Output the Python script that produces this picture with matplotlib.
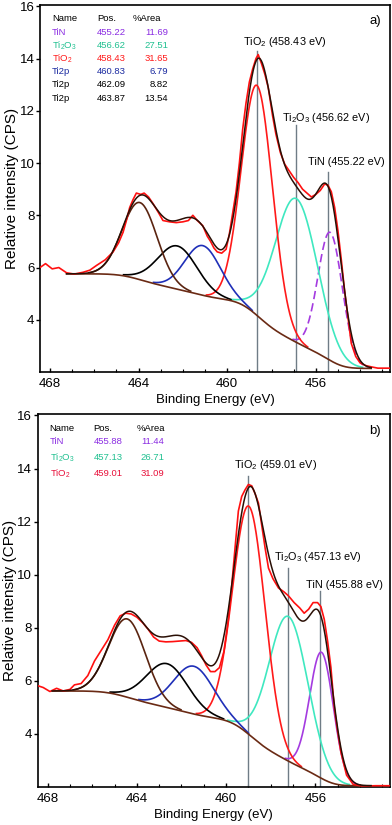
import numpy as np
import matplotlib
matplotlib.use("Agg")
import matplotlib.pyplot as plt

plt.rcParams["font.family"] = ["Liberation Sans", "DejaVu Sans"]
plt.rcParams["mathtext.default"] = "regular"

raw_a_E = [468.45, 468.2, 467.9, 467.6, 467.25, 466.9, 466.5, 466.2, 465.9, 465.5,
           465.15, 464.9, 464.7, 464.55, 464.4, 464.25, 464.1, 463.9, 463.75, 463.55,
           463.35, 463.1, 462.9, 462.6, 462.3, 462.0, 461.75, 461.55, 461.35, 461.1,
           460.9, 460.75, 460.6, 460.45, 460.25, 460.05, 459.9, 459.75, 459.6, 459.45,
           459.3, 459.15, 459.0, 458.85, 458.7, 458.6, 458.45, 458.3, 458.15, 457.95,
           457.8, 457.6, 457.4, 457.2, 457.0, 456.8, 456.6, 456.4, 456.2, 456.0,
           455.8, 455.6, 455.45, 455.3, 455.15, 455.0, 454.85, 454.7, 454.55, 454.4,
           454.2, 454.0, 453.75, 453.5, 453.2, 452.9, 452.65]
raw_a_I = [6.0, 6.15, 5.95, 6.0, 5.8, 5.75, 5.82, 5.9, 6.08, 6.3,
           6.6, 6.95, 7.35, 7.8, 8.3, 8.6, 8.85, 8.8, 8.85, 8.7,
           8.45, 8.1, 7.8, 7.75, 7.72, 7.75, 7.8, 8.0, 7.8, 7.6,
           7.2, 7.0, 6.75, 6.6, 6.55, 6.7, 7.3, 8.1, 8.9, 10.0,
           11.3, 12.3, 13.1, 13.6, 14.0, 14.15, 13.8, 13.4, 12.9, 11.8,
           11.1, 10.4, 9.95, 9.7, 9.45, 9.25, 9.0, 8.85, 8.7, 8.8,
           8.95, 9.2, 9.15, 8.9, 8.3, 7.4, 6.3, 5.1, 4.1, 3.1,
           2.6, 2.35, 2.25, 2.2, 2.15, 2.15, 2.15]

# fitted components: centre (as drawn), height above background, FWHM
comp_a_center = [455.35, 456.88, 458.65, 461.1, 462.25, 463.94]
comp_a_height = [4.9, 5.5, 8.8, 1.9, 1.65, 2.95]
comp_a_fwhm = [1.3, 2.25, 1.65, 1.9, 2.1, 1.85]
fit_a_range = (467.25, 453.5)
bg_a_levels = (5.76, 2.14)   # Shirley end points (high BE, low BE)

table_a_name = ["TiN", "Ti$_2$O$_3$", "TiO$_2$", "Ti2p", "Ti2p", "Ti2p"]
table_a_pos = ["455.22", "456.62", "458.43", "460.83", "462.09", "463.87"]
table_a_area = ["11.69", "27.51", "31.65", "6.79", "8.82", "13.54"]

mark_a_E = [458.65, 456.90, 455.46]
mark_a_top = [14.27, 11.46, 9.65]
mark_a_text = ["TiO$_2$ (458.43 eV)", "Ti$_2$O$_3$ (456.62 eV)", "TiN (455.22 eV)"]

# ---------------- panel b ----------------
raw_b_E = [468.45, 468.2, 467.9, 467.6, 467.3, 467.0, 466.8, 466.5, 466.2, 465.9,
           465.6, 465.3, 465.0, 464.75, 464.5, 464.25, 464.0, 463.75, 463.5, 463.25,
           463.0, 462.7, 462.4, 462.1, 461.8, 461.55, 461.3, 461.1, 460.9, 460.7,
           460.5, 460.3, 460.1, 459.9, 459.75, 459.6, 459.45, 459.3, 459.15, 459.0,
           458.85, 458.7, 458.55, 458.4, 458.25, 458.1, 457.9, 457.65, 457.4, 457.2,
           456.95, 456.7, 456.5, 456.3, 456.1, 455.9, 455.75, 455.6, 455.45, 455.3,
           455.15, 455.0, 454.85, 454.6, 454.3, 454.0, 453.7, 453.3, 452.9, 452.5]
raw_b_I = [5.82, 5.75, 5.6, 5.72, 5.62, 5.68, 5.85, 5.9, 6.2, 6.75,
           7.15, 7.55, 8.1, 8.45, 8.55, 8.52, 8.4, 8.2, 7.95, 7.65,
           7.5, 7.47, 7.48, 7.5, 7.52, 7.45, 7.25, 6.95, 6.6, 6.35,
           6.35, 6.5, 7.1, 8.3, 9.57, 11.0, 12.4, 12.95, 13.2, 13.4,
           13.35, 13.05, 12.7, 11.85, 11.0, 10.25, 9.85, 9.5, 9.35, 9.2,
           8.95, 8.75, 8.55, 8.7, 8.95, 8.95, 8.8, 8.32, 7.5, 6.5,
           5.0, 4.1, 3.3, 2.45, 2.1, 2.05, 2.04, 2.05, 2.05, 2.05]

comp_b_center = [455.72, 457.2, 458.97, 461.45, 462.65, 464.43]
comp_b_height = [4.75, 5.45, 8.6, 1.8, 1.65, 2.95]
comp_b_fwhm = [1.25, 2.05, 1.7, 2.1, 2.2, 1.95]
fit_b_range = (467.8, 453.5)
bg_b_levels = (5.62, 2.05)

table_b_name = ["TiN", "Ti$_2$O$_3$", "TiO$_2$"]
table_b_pos = ["455.88", "457.13", "459.01"]
table_b_area = ["11.44", "26.71", "31.09"]

mark_b_E = [459.03, 457.22, 455.77]
mark_b_top = [13.72, 10.27, 9.37]
mark_b_text = ["TiO$_2$ (459.01 eV)", "Ti$_2$O$_3$ (457.13 eV)", "TiN (455.88 eV)"]

# colours
RAW = "#ff1010"
ENV = "#2a0f05"
BG = "#6a2a14"
comp_colors = ["#a43be0", "#3fe8c0", "#ff1a1a", "#1f2fb8", "#000000", "#5a2410"]
table_colors_a = ["#8a2be2", "#20c090", "#ff1a1a", "#1a2aa0", "#000000", "#000000"]
table_colors_b = ["#8a2be2", "#20c090", "#e8103a"]


def gauss(E, c, h, w):
    s = w / 2.3548
    return h * np.exp(-(E - c) ** 2 / (2 * s ** 2))


def shirley(E, peaks_sum, hi, lo):
    # E descending; integrate from low-BE end
    Eu = E[::-1]
    Pu = peaks_sum[::-1]
    cum = np.concatenate([[0], np.cumsum((Pu[1:] + Pu[:-1]) / 2 * np.diff(Eu))])
    bg = lo + (hi - lo) * cum / cum[-1]
    return bg[::-1]


def draw_panel(ax, rawE, rawI, centers, heights, fwhms, frange, levels,
               dashed_tin, names, pos, area, tcolors, cols,
               markE, markTop, markText, label_xy, tag):
    E = np.linspace(frange[0], frange[1], 600)
    comps = [gauss(E, c, h, w) for c, h, w in zip(centers, heights, fwhms)]
    total = np.sum(comps, axis=0)
    bg = shirley(E, total, *levels)

    for k, (g, col) in enumerate(zip(comps, comp_colors)):
        y = np.ma.masked_where(g < 0.04, bg + g)
        ls = (0, (5, 2.5)) if (k == 0 and dashed_tin) else "-"
        ax.plot(E, y, color=col, lw=1.2, ls=ls, zorder=3)

    ax.plot(E, bg, color=BG, lw=1.2, zorder=4)
    ax.plot(rawE, rawI, color=RAW, lw=1.2, zorder=5)
    ax.plot(E, bg + total, color=ENV, lw=1.1, zorder=6)

    for xe, top in zip(markE, markTop):
        ax.plot([xe, xe], [0, top], color="#6f7c86", lw=1.0, zorder=2)
    for txt, (lx, ly) in zip(markText, label_xy):
        ax.text(lx, ly, txt, fontsize=7.8, ha="left", va="center", zorder=7)

    # little results table
    ax.text(0.034, 0.962, "Name", transform=ax.transAxes, fontsize=6.8, va="center")
    ax.text(cols[0], 0.962, "Pos.", transform=ax.transAxes, fontsize=6.8, va="center")
    ax.text(cols[1], 0.962, "%Area", transform=ax.transAxes, fontsize=6.8, va="center")
    row_y = 0.926
    for n, p, a, c in zip(names, pos, area, tcolors):
        ax.text(0.034, row_y, n, transform=ax.transAxes, fontsize=6.8, va="center", color=c)
        ax.text(cols[0], row_y, p, transform=ax.transAxes, fontsize=6.8, va="center", color=c)
        ax.text(cols[2], row_y, a, transform=ax.transAxes, fontsize=6.8, va="center",
                ha="right", color=c)
        row_y -= cols[3]

    ax.text(0.975, 0.955, tag, transform=ax.transAxes, fontsize=9.5, ha="right", va="center")

    ax.set_xlim(468.45, 452.65)
    ax.set_ylim(2.0, 16.05)
    ax.set_xticks([468, 464, 460, 456])
    ax.set_xticks(np.arange(453, 469, 1), minor=True)
    ax.set_yticks([4, 6, 8, 10, 12, 14, 16])
    ax.tick_params(axis="x", direction="in", length=3, width=1, labelsize=9.5, pad=4)
    ax.tick_params(axis="x", which="minor", direction="in", length=2, width=0.8)
    ax.tick_params(axis="y", direction="out", length=3, width=1, labelsize=9.5, pad=1)
    for s in ax.spines.values():
        s.set_linewidth(1.2)
    ax.set_xlabel("Binding Energy (eV)", fontsize=9.5, labelpad=3)
    ax.set_ylabel("Relative intensity (CPS)", fontsize=11, labelpad=0.5)


fig = plt.figure(figsize=(3.92, 8.25), dpi=100)
ax_a = fig.add_axes([0.102, 0.549, 0.893, 0.445])
ax_b = fig.add_axes([0.096, 0.046, 0.899, 0.452])

draw_panel(ax_a, raw_a_E, raw_a_I, comp_a_center, comp_a_height, comp_a_fwhm,
           fit_a_range, bg_a_levels, True,
           table_a_name, table_a_pos, table_a_area, table_colors_a,
           (0.163, 0.266, 0.366, 0.036),
           mark_a_E, mark_a_top, mark_a_text,
           [(459.29, 14.65), (457.54, 11.73), (456.36, 10.04)], "a)")

draw_panel(ax_b, raw_b_E, raw_b_I, comp_b_center, comp_b_height, comp_b_fwhm,
           fit_b_range, bg_b_levels, False,
           table_b_name, table_b_pos, table_b_area, table_colors_b,
           (0.159, 0.28, 0.36, 0.043),
           mark_b_E, mark_b_top, mark_b_text,
           [(459.66, 14.13), (457.85, 10.68), (456.4, 9.63)], "b)")

fig.savefig("out.png", dpi=100)
